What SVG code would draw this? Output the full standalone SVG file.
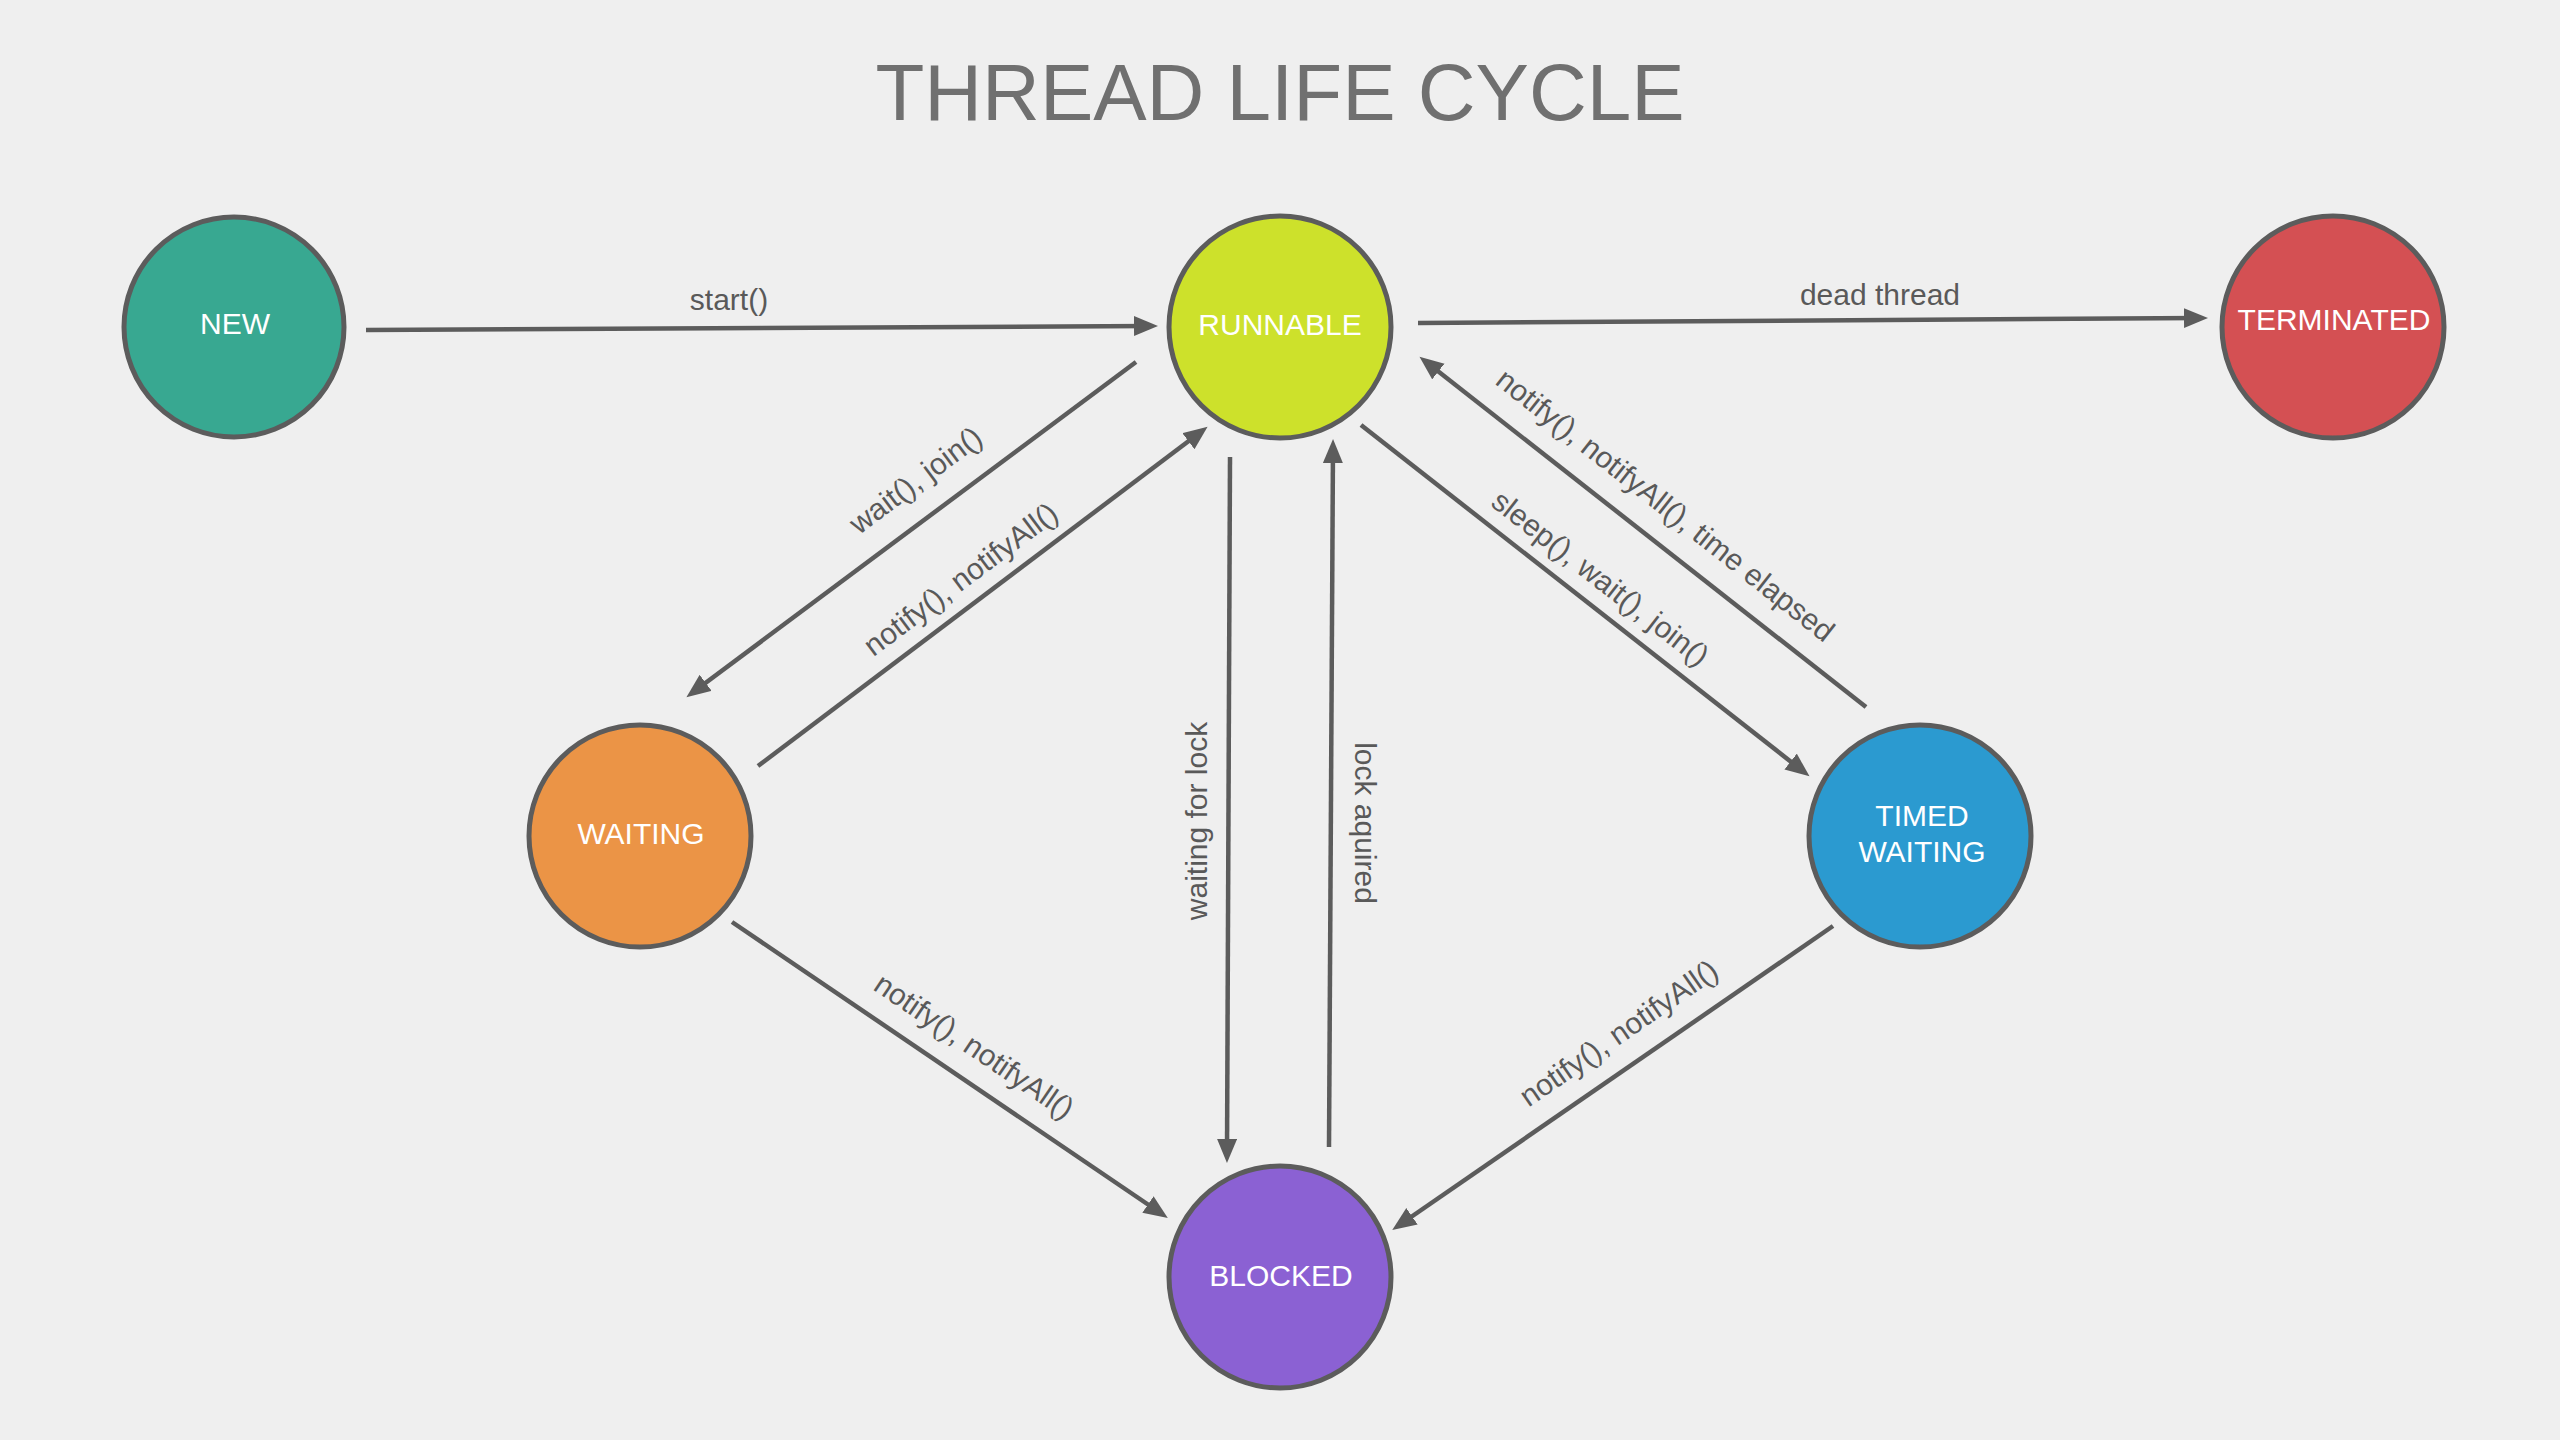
<svg xmlns="http://www.w3.org/2000/svg" width="2560" height="1440" viewBox="0 0 2560 1440">
<defs>
<marker id="arrow" markerUnits="userSpaceOnUse" markerWidth="26" markerHeight="22" refX="17" refY="10" orient="auto">
<path d="M0,0 L24,10 L0,20 z" fill="#5c5c5c"/>
</marker>
<style>
.node{stroke:#5c5c5c;stroke-width:5}
.nlabel{font-family:"Liberation Sans",Arial,sans-serif;font-size:30px;fill:#ffffff;text-anchor:middle}
.edge{stroke:#5c5c5c;stroke-width:4.5;fill:none;marker-end:url(#arrow)}
.elabel{font-family:"Liberation Sans",Arial,sans-serif;font-size:30px;fill:#595959;text-anchor:middle}
.title{font-family:"Liberation Sans",Arial,sans-serif;font-size:80px;fill:#707070;text-anchor:middle}
</style>
</defs>
<rect width="2560" height="1440" fill="#efefef"/>
<text class="title" x="1280" y="120">THREAD LIFE CYCLE</text>

<g id="connectors">
<path class="edge" d="M366,330 L1151,326"/>
<path class="edge" d="M1418,323 L2201,318"/>
<path class="edge" d="M1136,362 L692,693"/>
<path class="edge" d="M758,766 L1202,431"/>
<path class="edge" d="M1230,457 L1227,1156"/>
<path class="edge" d="M1329,1147 L1333,446"/>
<path class="edge" d="M1361,425 L1804,772"/>
<path class="edge" d="M1866,707 L1425,361"/>
<path class="edge" d="M732,922 L1162,1214"/>
<path class="edge" d="M1833,926 L1398,1226"/>
<text class="elabel" x="729" y="310">start()</text>
<text class="elabel" x="1880" y="305">dead thread</text>
<text class="elabel" transform="translate(917,482) rotate(-36.7)" x="0" y="8">wait(), join()</text>
<text class="elabel" transform="translate(962,581) rotate(-36.8)" x="0" y="8">notify(), notifyAll()</text>
<text class="elabel" transform="translate(1207,821) rotate(-90)" x="0" y="0">waiting for lock</text>
<text class="elabel" transform="translate(1355,823) rotate(90)" x="0" y="0">lock aquired</text>
<text class="elabel" transform="translate(1599,580) rotate(37.8)" x="0" y="8">sleep(), wait(), join()</text>
<text class="elabel" transform="translate(1664,507) rotate(38.2)" x="0" y="8">notify(), notifyAll(), time elapsed</text>
<text class="elabel" transform="translate(973,1048) rotate(34.2)" x="0" y="8">notify(), notifyAll()</text>
<text class="elabel" transform="translate(1620,1035) rotate(-34.6)" x="0" y="8">notify(), notifyAll()</text>
</g>

<g id="node-new">
<circle class="node" cx="234" cy="327" r="110" fill="#38a891"/>
<text class="nlabel" x="235" y="334">NEW</text>
</g>
<g id="node-runnable">
<circle class="node" cx="1280" cy="327" r="111" fill="#cde12b"/>
<text class="nlabel" x="1280" y="335">RUNNABLE</text>
</g>
<g id="node-terminated">
<circle class="node" cx="2333" cy="327" r="111" fill="#d45053"/>
<text class="nlabel" x="2334" y="330">TERMINATED</text>
</g>
<g id="node-waiting">
<circle class="node" cx="640" cy="836" r="111" fill="#eb9446"/>
<text class="nlabel" x="641" y="844">WAITING</text>
</g>
<g id="node-timed-waiting">
<circle class="node" cx="1920" cy="836" r="111" fill="#2b9ad0"/>
<text class="nlabel" x="1922" y="826">TIMED</text>
<text class="nlabel" x="1922" y="862">WAITING</text>
</g>
<g id="node-blocked">
<circle class="node" cx="1280" cy="1277" r="111" fill="#8b61d3"/>
<text class="nlabel" x="1281" y="1286">BLOCKED</text>
</g>
</svg>
